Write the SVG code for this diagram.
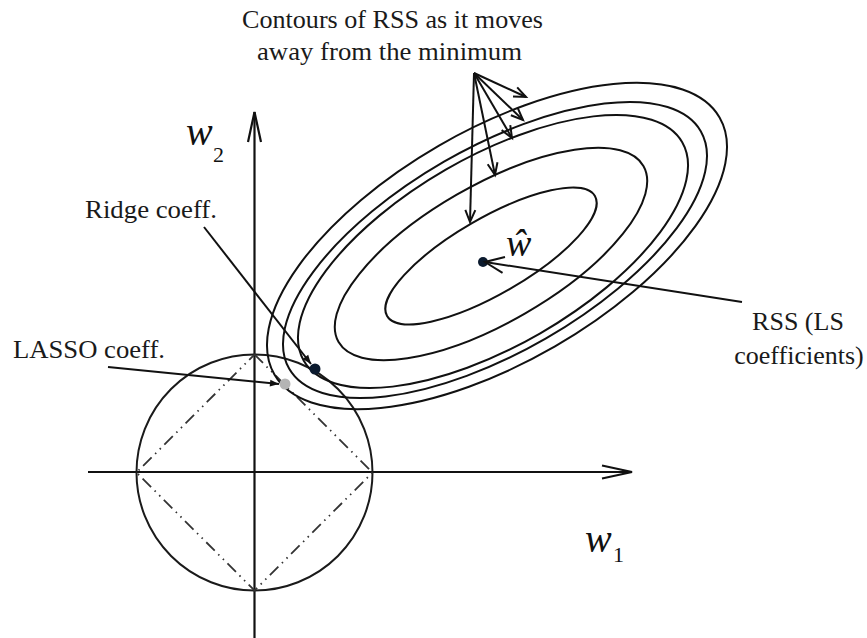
<svg xmlns="http://www.w3.org/2000/svg" width="867" height="638" viewBox="0 0 867 638">
<style>
.txt{font-size:26px;fill:#1a1a1a}
.math{font-style:italic;fill:#111}
.sub{fill:#111}
.ax{stroke:#111;stroke-width:2.2;fill:none}
.ell{stroke:#111;stroke-width:2;fill:none}
.circ{stroke:#1a1a1a;stroke-width:2;fill:none}
.dia{stroke:#333;stroke-width:1.8;fill:none;stroke-dasharray:12 5 1.5 5 1.5 5}
.con{stroke:#111;stroke-width:2;fill:none}
</style>
<defs>
<marker id="axisHead" markerUnits="userSpaceOnUse" markerWidth="34" markerHeight="18" refX="30" refY="8" orient="auto" overflow="visible">
<path d="M0,1.5 L30,8 L0,14.5" fill="none" stroke="#111" stroke-width="2.2"/>
</marker>
<marker id="openHead" markerUnits="userSpaceOnUse" markerWidth="14" markerHeight="12" refX="12" refY="5" orient="auto" overflow="visible">
<path d="M0,0 L12,5 L0,10" fill="none" stroke="#111" stroke-width="2"/>
</marker>
<marker id="hatHead" markerUnits="userSpaceOnUse" markerWidth="22" markerHeight="18" refX="19" refY="8" orient="auto" overflow="visible">
<path d="M0,0 L19,8 L0,16" fill="none" stroke="#111" stroke-width="2"/>
</marker>
<marker id="solidHead" markerUnits="userSpaceOnUse" markerWidth="10" markerHeight="8" refX="9" refY="3.5" orient="auto" overflow="visible">
<path d="M0,0 L9,3.5 L0,7 z" fill="#111"/>
</marker>
</defs>
<rect width="867" height="638" fill="#fff"/>

<g id="axes">
<line class="ax" x1="88" y1="472" x2="632" y2="472" marker-end="url(#axisHead)"/>
<line class="ax" x1="254.5" y1="638" x2="254.5" y2="112" marker-end="url(#axisHead)"/>
</g>

<g id="circle-constraint">
<circle class="circ" cx="254.5" cy="472.5" r="118"/>
</g>

<g id="diamond-constraint">
<path class="dia" d="M254.5,354.5 L372.5,472.5 L254.5,590.5 L136.5,472.5 Z"/>
</g>

<g id="rss-contours">
<ellipse class="ell" cx="497" cy="246" rx="257" ry="116" transform="rotate(-30 497 246)"/>
<ellipse class="ell" cx="495" cy="250" rx="237.6" ry="102" transform="rotate(-30 495 250)"/>
<ellipse class="ell" cx="493" cy="251.5" rx="218.5" ry="94.5" transform="rotate(-30 493 251.5)"/>
<ellipse class="ell" cx="491" cy="254" rx="176" ry="68.5" transform="rotate(-30 491 254)"/>
<ellipse class="ell" cx="491" cy="256" rx="120" ry="38" transform="rotate(-30 491 256)"/>
</g>

<g id="w-hat-point">
<circle cx="483" cy="262" r="5" fill="#0b1a2e"/>
<text class="math" font-family="Liberation Serif, Times New Roman, serif" x="506" y="256" font-size="38">ŵ</text>
</g>

<g id="ridge-point">
<circle cx="315" cy="369" r="5.5" fill="#0b1a2e"/>
</g>

<g id="lasso-point">
<circle cx="285" cy="384" r="5.5" fill="#b4b4b4"/>
</g>

<g id="label-w2">
<text class="math" font-family="Liberation Serif, Times New Roman, serif" x="186" y="145" font-size="40">w</text>
<text class="sub" font-family="Liberation Serif, Times New Roman, serif" x="213" y="162" font-size="22">2</text>
</g>

<g id="label-w1">
<text class="math" font-family="Liberation Serif, Times New Roman, serif" x="585" y="552" font-size="40">w</text>
<text class="sub" font-family="Liberation Serif, Times New Roman, serif" x="613" y="562" font-size="22">1</text>
</g>

<g id="label-contours">
<text class="txt" font-family="Liberation Serif, Times New Roman, serif" x="242" y="28" textLength="301" lengthAdjust="spacingAndGlyphs">Contours of RSS as it moves</text>
<text class="txt" font-family="Liberation Serif, Times New Roman, serif" x="257" y="60" textLength="265" lengthAdjust="spacingAndGlyphs">away from the minimum</text>
</g>

<g id="label-ridge">
<text class="txt" font-family="Liberation Serif, Times New Roman, serif" x="85" y="218" textLength="132" lengthAdjust="spacingAndGlyphs">Ridge coeff.</text>
</g>

<g id="label-lasso">
<text class="txt" font-family="Liberation Serif, Times New Roman, serif" x="13" y="358" textLength="152" lengthAdjust="spacingAndGlyphs">LASSO coeff.</text>
</g>

<g id="label-rss">
<text class="txt" font-family="Liberation Serif, Times New Roman, serif" x="798" y="330" text-anchor="middle">RSS (LS</text>
<text class="txt" font-family="Liberation Serif, Times New Roman, serif" x="799" y="364" text-anchor="middle">coefficients)</text>
</g>

<g id="connectors">
<line class="con" x1="474" y1="73" x2="526" y2="97" marker-end="url(#openHead)"/>
<line class="con" x1="474" y1="73" x2="523" y2="120" marker-end="url(#openHead)"/>
<line class="con" x1="474" y1="73" x2="512" y2="138" marker-end="url(#openHead)"/>
<line class="con" x1="474" y1="73" x2="495" y2="175" marker-end="url(#openHead)"/>
<line class="con" x1="474" y1="73" x2="470" y2="222" marker-end="url(#openHead)"/>
<line class="con" x1="742" y1="302" x2="485" y2="262" marker-end="url(#hatHead)"/>
<line class="con" x1="204" y1="227" x2="311" y2="364" marker-end="url(#solidHead)"/>
<line class="con" x1="108" y1="367" x2="279" y2="384" marker-end="url(#solidHead)"/>
</g>
</svg>
